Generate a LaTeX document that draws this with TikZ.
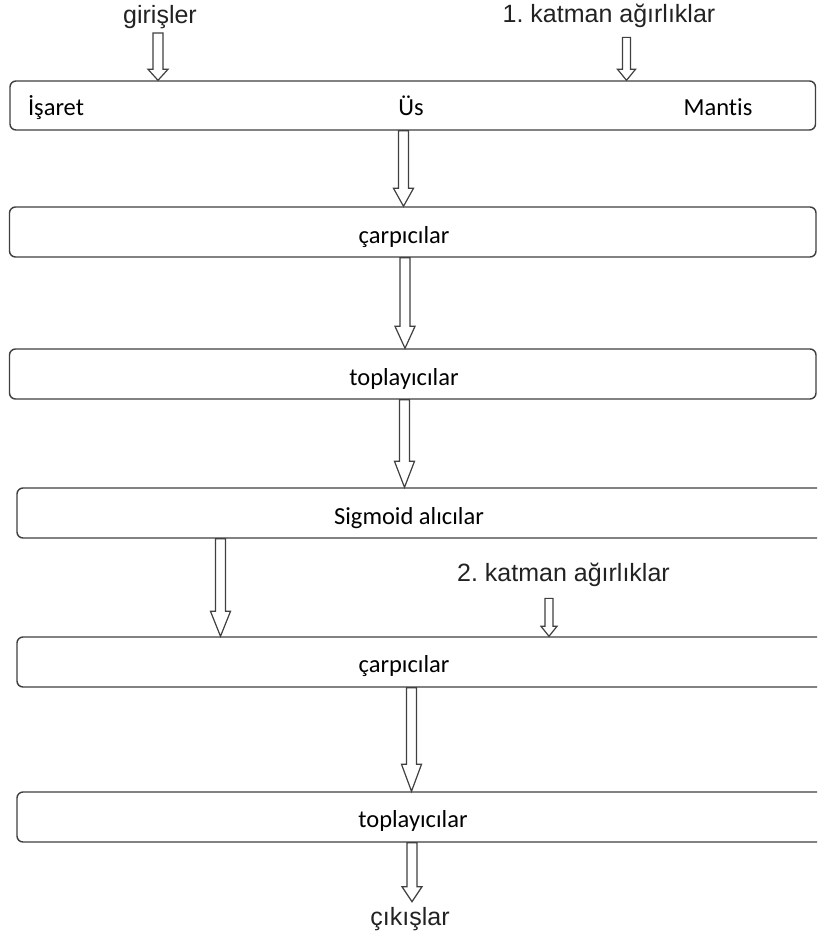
\documentclass[tikz,border=0pt]{standalone}
\usepackage{fontspec}
\setmainfont{Liberation Sans}
\newfontfamily\boxfont[Ligatures=NoCommon]{Carlito}
\usetikzlibrary{calc}
\frenchspacing

\definecolor{textgray}{HTML}{222222}
\definecolor{boxgray}{HTML}{3F3F3F}
\definecolor{arrowgray}{HTML}{404040}

\tikzset{
  shafthalf/.store in=\shafthalf,
  headhalf/.store in=\headhalf,
  headlen/.store in=\headlen,
  shafthalf=5pt, headhalf=10pt, headlen=22pt,
  % hollow block arrow pointing down, at the x of its start point
  blockarrow/.style={draw=arrowgray, line width=1.2pt, line join=miter,
    to path={let \p1=(\tikztostart), \p2=(\tikztotarget) in
      (\x1-\shafthalf,\y1) -- (\x1-\shafthalf,\y2+\headlen)
      -- (\x1-\headhalf,\y2+\headlen) -- (\x1,\y2)
      -- (\x1+\headhalf,\y2+\headlen) -- (\x1+\shafthalf,\y2+\headlen)
      -- (\x1+\shafthalf,\y1) -- cycle}},
  stage/.style={draw=boxgray, line width=1.4pt, rounded corners=6pt,
    inner sep=0pt, fill=white},
  lbl/.style={font=\fontsize{25}{30}\selectfont, text=textgray,
    inner sep=0pt, anchor=base},
  boxtxt/.style={font=\boxfont\fontsize{24.5}{29}\selectfont, text=black,
    inner sep=0pt, anchor=base}
}

\begin{document}
\begin{tikzpicture}[x=1pt, y=-1pt]
\clip (0,0) rectangle (817,947);
\fill[white] (0,0) rectangle (817,947);

% stages of the network
\node[stage, minimum width=805.5pt, minimum height=49pt] (b1) at (412.75,105.5) {};
\node[stage, minimum width=806.5pt, minimum height=50pt] (b2) at (412.75,232) {};
\node[stage, minimum width=806.5pt, minimum height=50pt] (b3) at (412.75,374) {};
\node[stage, minimum width=818pt, minimum height=50pt] (b4) at (426,513) {};
\node[stage, minimum width=818pt, minimum height=50pt] (b5) at (426,662) {};
\node[stage, minimum width=818pt, minimum height=50pt] (b6) at (426,817) {};

% texts inside the stages
\node[boxtxt] (isaret) at (56,116) {İşaret};
\node[boxtxt] (us) at (411,116) {Üs};
\node[boxtxt] (mantis) at (718,116) {Mantis};
\node[boxtxt] (carp1) at (404,243) {çarpıcılar};
\node[boxtxt] (topl1) at (404,385) {toplayıcılar};
\node[boxtxt] (sigm) at (409,524) {Sigmoid alıcılar};
\node[boxtxt] (carp2) at (404,672) {çarpıcılar};
\node[boxtxt] (topl2) at (413,827) {toplayıcılar};

% outer labels
\node[lbl] (gir) at (160,23.5) {girişler};
\node[lbl] (k1) at (609,23) {1. katman ağırlıklar};
\node[lbl] (k2) at (563.5,581) {2. katman ağırlıklar};
\node[lbl] (cik) at (410,925) {çıkışlar};

% data flow
\draw[blockarrow, headlen=11pt] ([xshift=-2pt,yshift=-4pt]gir.south) to (b1.north);
\draw[blockarrow, headlen=11pt, shafthalf=4pt, headhalf=9pt] ([xshift=17.5pt,yshift=-9pt]k1.south) to (b1.north);
\draw[blockarrow, headlen=18pt] ([xshift=-9.25pt]b1.south) to (b2.north);
\draw[blockarrow, headlen=22pt] ([xshift=-7.75pt]b2.south) to (b3.north);
\draw[blockarrow, headlen=26pt] ([xshift=-8.25pt]b3.south) to (b4.north);
\draw[blockarrow, headlen=25pt] ([xshift=-205.5pt]b4.south) to (b5.north);
\draw[blockarrow, headlen=10pt, shafthalf=4pt, headhalf=8pt] ([xshift=-14.5pt,yshift=-12pt]k2.south) to (b5.north);
\draw[blockarrow, headlen=27pt] ([xshift=-14.5pt]b5.south) to (b6.north);
\draw[blockarrow, headlen=15pt] ([xshift=-14pt]b6.south) to ([yshift=5pt]cik.north);
\end{tikzpicture}
\end{document}
